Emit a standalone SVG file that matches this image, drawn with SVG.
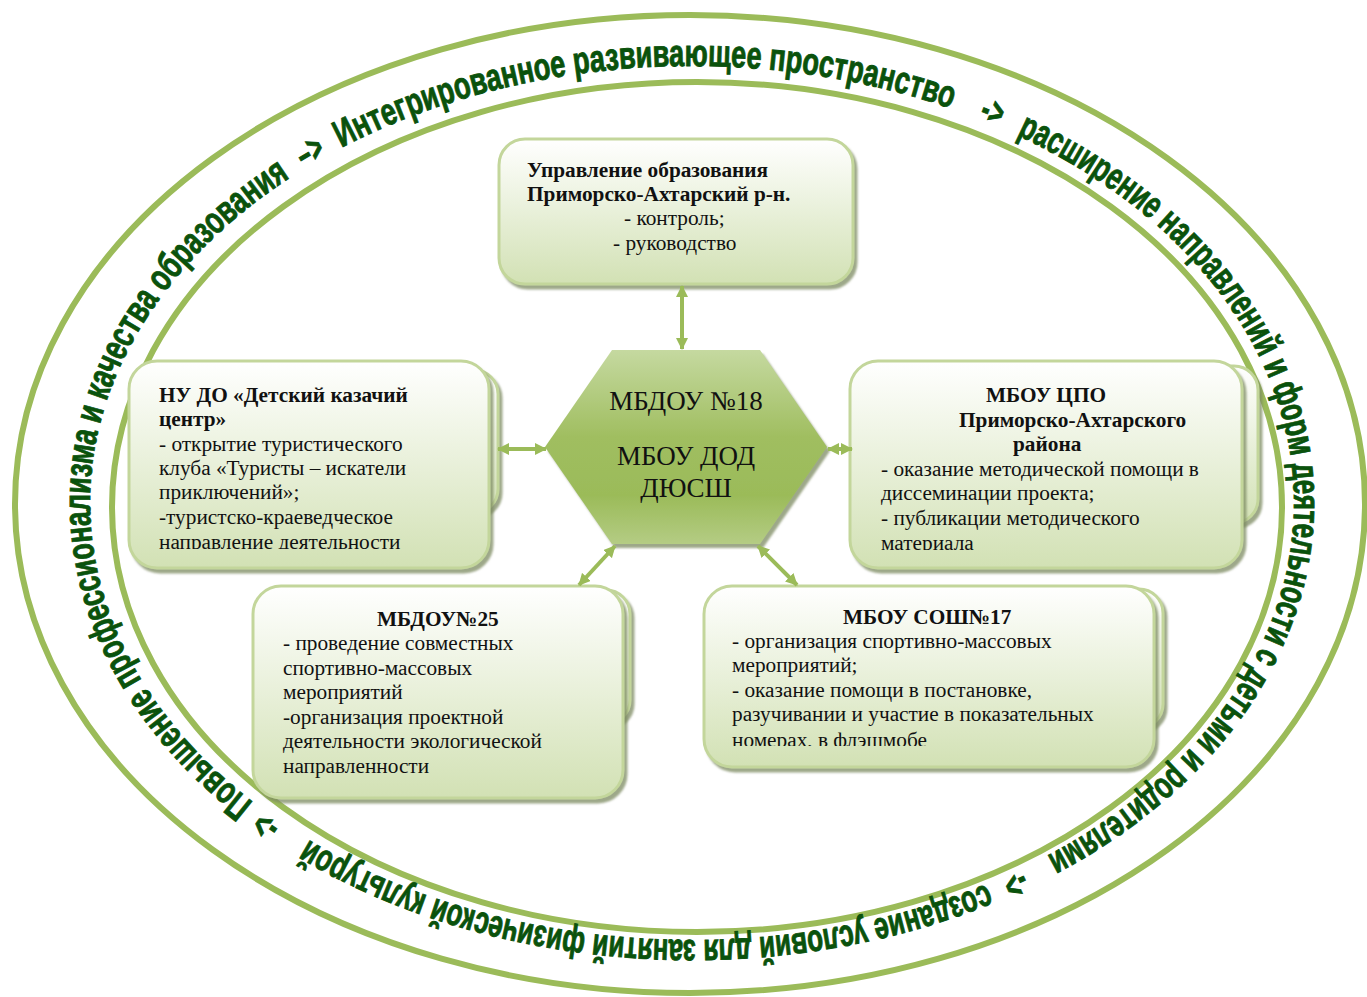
<svg xmlns="http://www.w3.org/2000/svg" width="1367" height="997" viewBox="0 0 1367 997">
<defs>
<style>
.ring{fill:none;stroke:#9bbb59;stroke-width:6}
.rt{font-family:"Liberation Sans",Arial,sans-serif;font-weight:bold;font-size:38px;fill:#0a520c;stroke:#0a520c;stroke-width:0.9px}
.card{fill:url(#cardGrad);stroke:#c3d69b;stroke-width:3;filter:url(#shadow)}
.t{font-family:"Liberation Serif","Times New Roman",serif;font-size:21.3px;fill:#111}
.b{font-weight:bold}
.conn{stroke:#9bbb59;stroke-width:4;fill:none;marker-start:url(#arr);marker-end:url(#arr)}
.hext{font-family:"Liberation Serif","Times New Roman",serif;font-size:27px;fill:#111;text-anchor:middle}
</style>
<linearGradient id="cardGrad" x1="0" y1="0" x2="0" y2="1"><stop offset="0" stop-color="#ffffff"/><stop offset="1" stop-color="#d2e1b4"/></linearGradient>
<linearGradient id="hexGrad" x1="0" y1="0" x2="0" y2="1"><stop offset="0" stop-color="#c5d9a0"/><stop offset="0.45" stop-color="#a0be60"/><stop offset="0.75" stop-color="#9bbb59"/><stop offset="1" stop-color="#b4cc84"/></linearGradient>
<filter id="shadow" x="-5%" y="-5%" width="115%" height="120%"><feDropShadow dx="3" dy="4" stdDeviation="1.2" flood-color="#7d8a62" flood-opacity="0.75"/></filter>
<marker id="arr" viewBox="0 0 12 12" refX="11" refY="6" markerWidth="12" markerHeight="12" markerUnits="userSpaceOnUse" orient="auto-start-reverse"><path d="M0,0 L12,6 L0,12 z" fill="#9bbb59"/></marker>
<path id="ringPath" d="M297,832.8 A602,437 0 0 1 237.7,216.3 A602,437 0 0 1 1087,173.2 A602,437 0 0 1 1146.3,789.7 A602,437 0 0 1 297,832.8"/>
<clipPath id="clipL"><rect x="129" y="361" width="362" height="188"/></clipPath>
<clipPath id="clipR"><rect x="850" y="361" width="395" height="189"/></clipPath>
<clipPath id="clipS"><rect x="704" y="586" width="452" height="160"/></clipPath>
</defs>

<g id="ring">
<ellipse class="ring" cx="690" cy="504" rx="675" ry="489"/>
<ellipse class="ring" cx="697" cy="507" rx="585" ry="425"/>
<text class="rt"><textPath href="#ringPath" startOffset="18" textLength="22" lengthAdjust="spacingAndGlyphs">-&gt;</textPath></text>
<text class="rt"><textPath href="#ringPath" startOffset="53" textLength="752" lengthAdjust="spacingAndGlyphs">Повышение профессионализма и качества образования</textPath></text>
<text class="rt"><textPath href="#ringPath" startOffset="822" textLength="26" lengthAdjust="spacingAndGlyphs">–&gt;</textPath></text>
<text class="rt"><textPath href="#ringPath" startOffset="864" textLength="627" lengthAdjust="spacingAndGlyphs">Интегрированное развивающее пространство</textPath></text>
<text class="rt"><textPath href="#ringPath" startOffset="1520" textLength="22" lengthAdjust="spacingAndGlyphs">-&gt;</textPath></text>
<text class="rt"><textPath href="#ringPath" startOffset="1562" textLength="940" lengthAdjust="spacingAndGlyphs">расширение направлений и форм деятельности с детьми и родителями</textPath></text>
<text class="rt"><textPath href="#ringPath" startOffset="2530" textLength="22" lengthAdjust="spacingAndGlyphs">-&gt;</textPath></text>
<text class="rt"><textPath href="#ringPath" startOffset="2568" textLength="703" lengthAdjust="spacingAndGlyphs">создание условий для занятий физической культурой</textPath></text>
</g>

<g id="node-uo">
<rect class="card" x="499" y="139" width="354" height="145" rx="26"/>
<text class="t"><tspan class="b" x="527" y="177">Управление образования</tspan><tspan class="b" x="527" y="201">Приморско-Ахтарский р-н.</tspan><tspan x="624" y="225">- контроль;</tspan><tspan x="613" y="250">- руководство</tspan></text>
</g>

<g id="node-nudo">
<rect class="card" x="150" y="370" width="348" height="143" rx="24"/>
<rect class="card" x="129" y="361" width="360" height="207" rx="28"/>
<text class="t" clip-path="url(#clipL)"><tspan class="b" x="159" y="402">НУ ДО «Детский казачий</tspan><tspan class="b" x="159" y="426">центр»</tspan><tspan x="159" y="451">- открытие туристического</tspan><tspan x="159" y="475">клуба «Туристы – искатели</tspan><tspan x="159" y="499">приключений»;</tspan><tspan x="159" y="524">-туристско-краеведческое</tspan><tspan x="159" y="549">направление деятельности</tspan></text>
</g>

<g id="node-cpo">
<rect class="card" x="872" y="366" width="386" height="157" rx="24"/>
<rect class="card" x="850" y="361" width="392" height="207" rx="28"/>
<text class="t" clip-path="url(#clipR)"><tspan class="b" x="986" y="402">МБОУ ЦПО</tspan><tspan class="b" x="959" y="427">Приморско-Ахтарского</tspan><tspan class="b" x="1013" y="451">района</tspan><tspan x="881" y="476">- оказание методической помощи в</tspan><tspan x="881" y="500">диссеминации проекта;</tspan><tspan x="881" y="525">- публикации методического</tspan><tspan x="881" y="550">материала</tspan></text>
</g>

<g id="node-mbdou25">
<rect class="card" x="270" y="590" width="360" height="134" rx="24"/>
<rect class="card" x="253" y="586" width="370" height="212" rx="28"/>
<text class="t"><tspan class="b" x="377" y="626">МБДОУ№25</tspan><tspan x="283" y="650">- проведение совместных</tspan><tspan x="283" y="675">спортивно-массовых</tspan><tspan x="283" y="699">мероприятий</tspan><tspan x="283" y="724">-организация проектной</tspan><tspan x="283" y="748">деятельности экологической</tspan><tspan x="283" y="773">направленности</tspan></text>
</g>

<g id="node-sosh17">
<rect class="card" x="720" y="589" width="443" height="139" rx="24"/>
<rect class="card" x="704" y="586" width="450" height="181" rx="28"/>
<text class="t" clip-path="url(#clipS)"><tspan class="b" x="843" y="624">МБОУ СОШ№17</tspan><tspan x="732" y="648">- организация спортивно-массовых</tspan><tspan x="732" y="672">мероприятий;</tspan><tspan x="732" y="697">- оказание помощи в постановке,</tspan><tspan x="732" y="721">разучивании и участие в показательных</tspan><tspan x="732" y="747">номерах, в флэшмобе</tspan></text>
</g>

<g id="node-center">
<polygon points="612,350 760,350 827,447 760,544 612,544 545,447" fill="url(#hexGrad)" filter="url(#shadow)"/>
<text class="hext"><tspan x="686" y="410">МБДОУ №18</tspan><tspan x="686" y="465">МБОУ ДОД</tspan><tspan x="686" y="497">ДЮСШ</tspan></text>
</g>

<g id="connectors">
<line class="conn" x1="682" y1="286" x2="682" y2="349"/>
<line class="conn" x1="498" y1="449" x2="546" y2="449"/>
<line class="conn" x1="828" y1="449" x2="852" y2="449"/>
<line class="conn" x1="615" y1="546" x2="579" y2="585"/>
<line class="conn" x1="758" y1="546" x2="797" y2="585"/>
</g>
</svg>
